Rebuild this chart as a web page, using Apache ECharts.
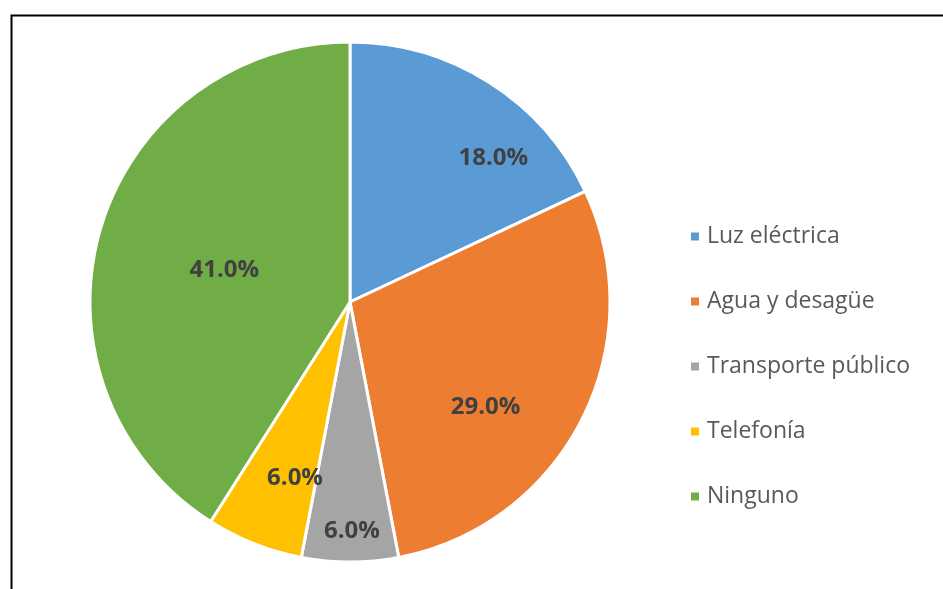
<!DOCTYPE html>
<html><head><meta charset="utf-8">
<script src="https://cdn.jsdelivr.net/npm/echarts@6/dist/echarts.min.js"></script>
<style>html,body{margin:0;padding:0;background:#fff}#c{width:943px;height:589px}</style>
</head><body><div id="c"></div>
<script>
const categories = ["Luz eléctrica", "Agua y desagüe", "Transporte público", "Telefonía", "Ninguno"];
const values = [18.0, 29.0, 6.0, 6.0, 41.0];
const colors = ["#5B9BD5", "#ED7D31", "#A5A5A5", "#FFC000", "#70AD47"];
const labelOffsets = [[72, -32], [17, 45], [2, 96], [-6, 52], [2, 5]];

const chart = echarts.init(document.getElementById('c'));
chart.setOption({
  animation: false,
  graphic: [{
    type: 'rect', left: 9, top: 13,
    shape: { width: 1200, height: 1200 },
    style: { fill: 'none', stroke: '#000', lineWidth: 2 }
  }],
  legend: {
    orient: 'vertical', left: 684, top: 220,
    itemWidth: 10, itemHeight: 10, itemGap: 42, icon: 'rect',
    textStyle: { fontFamily: 'Open Sans', fontSize: 23, color: '#595959', padding: [0, 0, 0, 2] },
    data: categories
  },
  series: [{
    type: 'pie',
    center: [350, 302], radius: [0, 260],
    startAngle: 90, clockwise: true,
    itemStyle: { borderColor: '#fff', borderWidth: 3 },
    label: {
      position: 'inside',
      formatter: p => p.value.toFixed(1) + '%',
      fontFamily: 'Open Sans', fontWeight: 'bold', fontSize: 24, color: '#404040'
    },
    labelLine: { show: false },
    labelLayout: p => ({ dx: labelOffsets[p.dataIndex][0], dy: labelOffsets[p.dataIndex][1] }),
    emphasis: { disabled: true },
    data: categories.map((n, i) => ({ name: n, value: values[i], itemStyle: { color: colors[i] } }))
  }]
});
</script></body></html>
